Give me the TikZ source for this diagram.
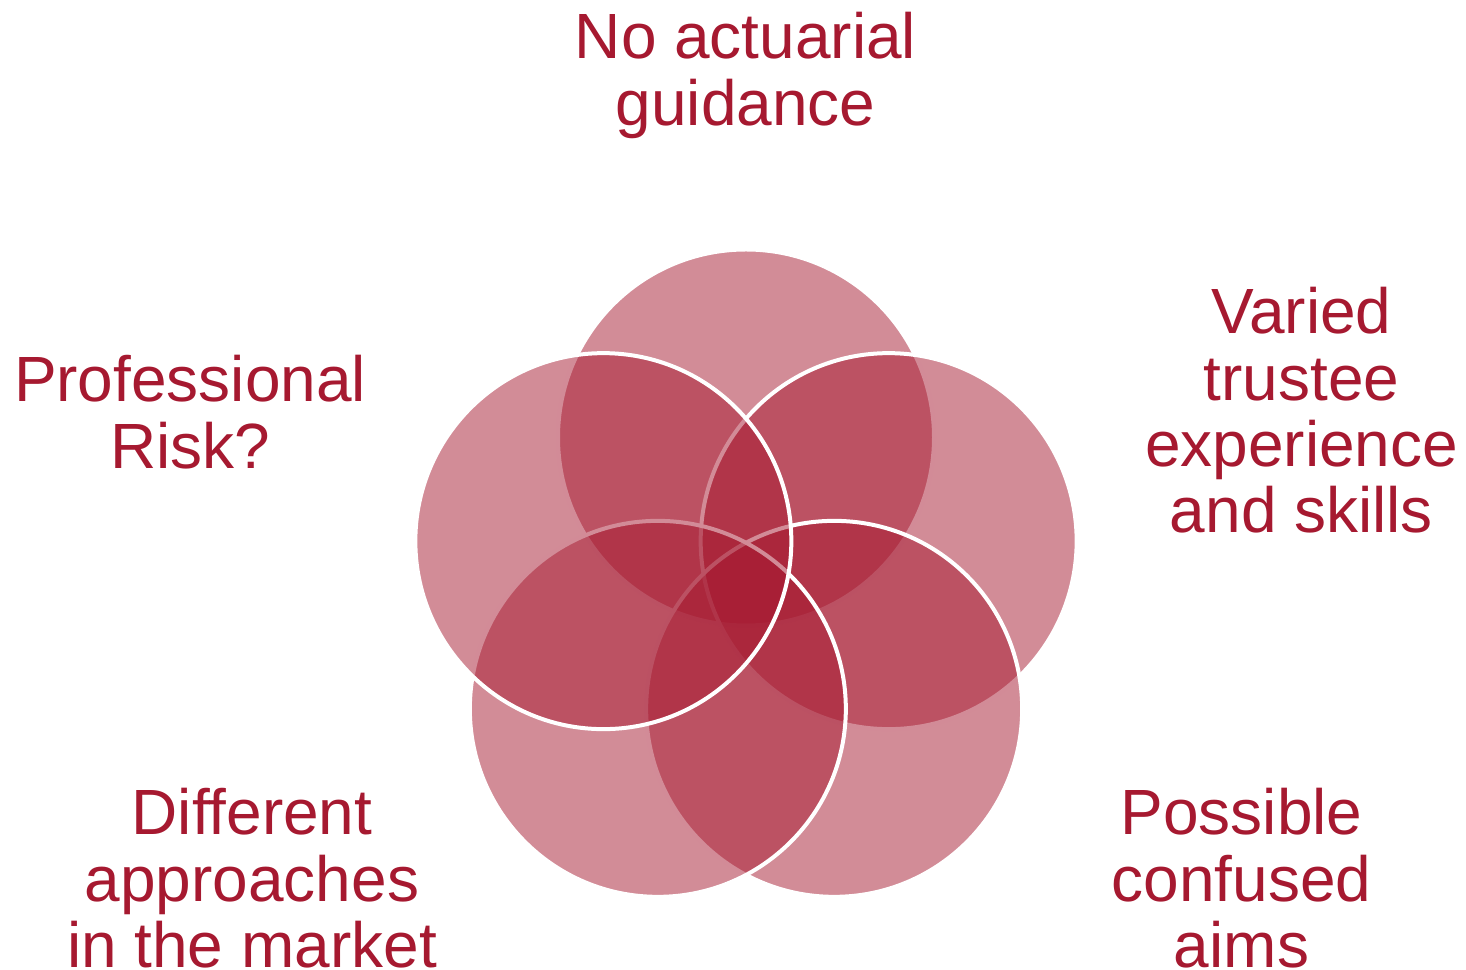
\documentclass[tikz,border=0pt]{standalone}
\usepackage{fontspec}
\setmainfont{Liberation Sans}
\usetikzlibrary{positioning}

\definecolor{riskred}{RGB}{166,25,48}

\begin{document}
\begin{tikzpicture}[
    petal/.style={
        circle,
        draw=white,
        line width=0.08cm,
        fill=riskred,
        fill opacity=0.5,
        minimum size=7.52cm,
        inner sep=0pt
    },
    issue/.style={
        anchor=north,
        inner sep=0pt,
        align=center,
        text=riskred,
        font=\fontsize{36.4}{37.8}\selectfont
    }
]

% Page frame
\useasboundingbox (0,0) rectangle (29.32,19.40);

% Centre of the five circles
\coordinate (hub) at (14.92,7.65);

% Circles, drawn clockwise from the top
\node[petal] (guide)  at ([shift={(90:3)}]hub)  {};
\node[petal] (skills) at ([shift={(18:3)}]hub)  {};
\node[petal] (aims)   at ([shift={(-54:3)}]hub) {};
\node[petal] (market) at ([shift={(234:3)}]hub) {};
\node[petal] (prof)   at ([shift={(162:3)}]hub) {};

% Labels round the outside
\node[issue] (guidetext)  at (14.91,19.16) {No actuarial\\guidance};
\node[issue] (skillstext) at (26.03,13.66) {Varied\\trustee\\experience\\and skills};
\node[issue] (aimstext)   at (24.83,3.64)  {Possible\\confused\\aims};
\node[issue] (markettext) at (5.04,3.64)   {Different\\approaches\\in the market};
\node[issue] (proftext)   at (3.80,12.30)  {Professional\\Risk?};

\end{tikzpicture}
\end{document}
